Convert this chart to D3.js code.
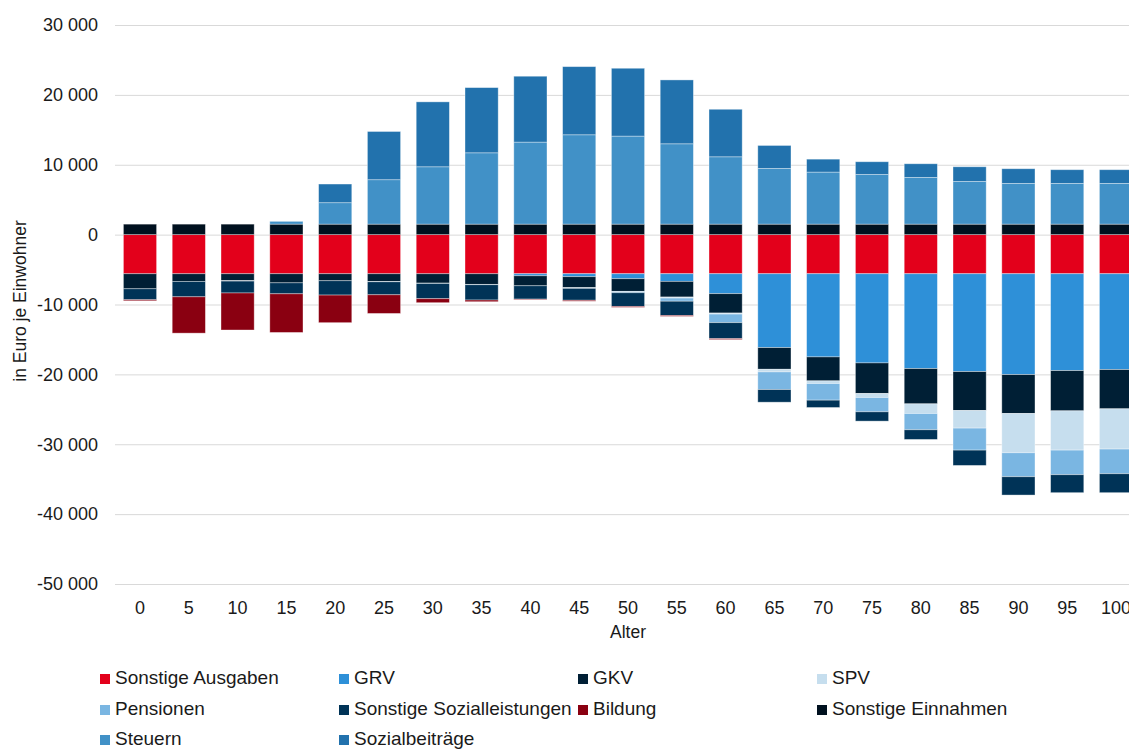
<!DOCTYPE html>
<html>
<head>
<meta charset="utf-8">
<script src="https://cdn.jsdelivr.net/npm/d3@7"></script>
<style>
	body { margin: 0; background: #fff; }
	svg { display: block; font-family: "Liberation Sans", Arial, sans-serif; }
</style>
</head>
<body>
<div id="wrapper"></div>
<script>
const ages = [0, 5, 10, 15, 20, 25, 30, 35, 40, 45, 50, 55, 60, 65, 70, 75, 80, 85, 90, 95, 100];
const seriesNames = ["Sonstige Ausgaben", "GRV", "GKV", "SPV", "Pensionen", "Sonstige Sozialleistungen", "Bildung", "Sonstige Einnahmen", "Steuern", "Sozialbeiträge"];
const seriesColors = ["#e3001b", "#2e90d8", "#001f35", "#c6deee", "#7ab6e2", "#003357", "#8a0011", "#00111f", "#4191c7", "#2272ad"];
const yTicks = [30000, 20000, 10000, 0, -10000, -20000, -30000, -40000, -50000];

// Ausgaben (negativ)
const sonstigeAusgaben = [-5600, -5600, -5600, -5600, -5600, -5600, -5600, -5600, -5600, -5600, -5600, -5600, -5600, -5600, -5600, -5600, -5600, -5600, -5600, -5600, -5600];
const grv = [0, 0, 0, 0, 0, 0, 0, 0, -290, -420, -710, -1090, -2850, -10570, -11900, -12760, -13570, -14000, -14430, -13860, -13710];
const gkv = [-2150, -1100, -1000, -1300, -1000, -1100, -1340, -1520, -1430, -1570, -1810, -2240, -2770, -3100, -3430, -4380, -5050, -5570, -5570, -5760, -5620];
const spv = [0, 0, -50, 0, 0, -50, -50, -50, 0, -100, -50, -150, -150, -380, -380, -570, -1380, -2520, -5620, -5620, -5760];
const pensionen = [0, 0, 0, 0, 0, 0, 0, 0, 0, 0, -150, -450, -1230, -2520, -2380, -2050, -2330, -3150, -3430, -3520, -3530];
const sonstigeSozial = [-1570, -2200, -1700, -1570, -2050, -1860, -2180, -2190, -1910, -1700, -1950, -2030, -2280, -1810, -1050, -1330, -1380, -2190, -2620, -2570, -2710];
const bildung = [-150, -5200, -5300, -5530, -3950, -2670, -570, -240, -90, -140, -140, -140, -140, 0, 0, 0, 0, 0, 0, 0, 0];
// Einnahmen (positiv)
const sonstigeEinnahmen = [1500, 1500, 1500, 1500, 1500, 1500, 1500, 1500, 1500, 1500, 1500, 1500, 1500, 1500, 1500, 1500, 1500, 1500, 1500, 1500, 1500];
const steuern = [0, 0, 0, 400, 3070, 6360, 8210, 10210, 11740, 12790, 12600, 11500, 9640, 7970, 7450, 7110, 6690, 6110, 5830, 5830, 5830];
const sozialbeitraege = [0, 0, 0, 0, 2670, 6900, 9290, 9330, 9430, 9750, 9710, 9140, 6800, 3290, 1850, 1820, 1950, 2100, 2100, 1960, 1960];

function drawChart(){
	const seriesValues = [sonstigeAusgaben, grv, gkv, spv, pensionen, sonstigeSozial, bildung, sonstigeEinnahmen, steuern, sozialbeitraege];

	const dataset = ages.map((age, i) => {
		const row = {age: age};
		seriesNames.forEach((name, j) => row[name] = seriesValues[j][i]);
		return row;
	});

	const dimensions = {
		width: 1129,
		height: 749,
		plotLeft: 115.6,
		plotRight: 1140.4,
		plotTop: 25,
		plotBottom: 584
	};

	const wrapper = d3.select("#wrapper").append("svg")
		.attr("width", dimensions.width)
		.attr("height", dimensions.height);

	const xScaler = d3.scaleBand()
		.domain(ages)
		.range([dimensions.plotLeft, dimensions.plotRight])
		.paddingInner(0.32)
		.paddingOuter(0.16);

	const yScaler = d3.scaleLinear()
		.domain([-50000, 30000])
		.range([dimensions.plotBottom, dimensions.plotTop]);

	const locale = d3.formatLocale({decimal: ",", thousands: " ", grouping: [3], currency: ["", " €"], minus: "-"});
	const fmt = locale.format(",d");

	// Gitternetz + y-Achse
	const yAxisGen = d3.axisLeft(yScaler)
		.tickValues(yTicks)
		.tickFormat(fmt)
		.tickSize(-(dimensions.width - 115))
		.tickPadding(17);

	const axisY = wrapper.append("g")
		.attr("transform", "translate(115,0)")
		.call(yAxisGen);
	axisY.select(".domain").remove();
	axisY.selectAll(".tick line").attr("stroke", "#d9d9d9").attr("stroke-width", 1);
	axisY.selectAll(".tick text")
		.attr("fill", "#1a1a1a")
		.style("font-size", "18px")
		.style("font-family", "Liberation Sans, Arial, sans-serif");

	// gestapelte Balken
	const stackGen = d3.stack()
		.keys(seriesNames)
		.offset(d3.stackOffsetDiverging);
	const stacked = stackGen(dataset);

	const layers = wrapper.append("g").selectAll("g")
		.data(stacked)
		.enter()
		.append("g")
		.attr("fill", (d, i) => seriesColors[i]);

	layers.selectAll("rect")
		.data(d => d)
		.enter()
		.append("rect")
		.attr("x", d => xScaler(d.data.age))
		.attr("y", d => yScaler(d[1]))
		.attr("width", xScaler.bandwidth())
		.attr("height", d => Math.abs(yScaler(d[0]) - yScaler(d[1])))
		.attr("stroke", "rgba(255,255,255,0.45)")
		.attr("stroke-width", 0.8);

	// x-Achse
	const xAxisGen = d3.axisBottom(xScaler)
		.tickSize(0)
		.tickPadding(17);

	const axisX = wrapper.append("g")
		.attr("transform", `translate(0,${dimensions.plotBottom})`)
		.call(xAxisGen);
	axisX.select(".domain").remove();
	axisX.selectAll(".tick text")
		.attr("fill", "#1a1a1a")
		.style("font-size", "18px")
		.style("font-family", "Liberation Sans, Arial, sans-serif");

	wrapper.append("text")
		.attr("x", 628)
		.attr("y", 633)
		.attr("text-anchor", "middle")
		.attr("dominant-baseline", "middle")
		.attr("fill", "#1a1a1a")
		.style("font-size", "17.5px")
		.text("Alter");

	wrapper.append("text")
		.attr("transform", "translate(21,301) rotate(-90)")
		.attr("text-anchor", "middle")
		.attr("dominant-baseline", "middle")
		.attr("fill", "#1a1a1a")
		.style("font-size", "17.5px")
		.text("in Euro je Einwohner");

	// Legende
	const legendCols = [100, 339, 578, 817];
	const legendRows = [679, 710, 740];

	const legend = wrapper.append("g").selectAll("g")
		.data(seriesNames)
		.enter()
		.append("g")
		.attr("transform", (d, i) => `translate(${legendCols[i % 4]},${legendRows[Math.floor(i / 4)]})`);

	legend.append("rect")
		.attr("x", 0)
		.attr("y", -5)
		.attr("width", 10)
		.attr("height", 10)
		.attr("fill", (d, i) => seriesColors[i]);

	legend.append("text")
		.attr("x", 15)
		.attr("y", 0)
		.attr("dominant-baseline", "middle")
		.attr("fill", "#1a1a1a")
		.style("font-size", "19px")
		.text(d => d);
}

drawChart();
</script>
</body>
</html>
